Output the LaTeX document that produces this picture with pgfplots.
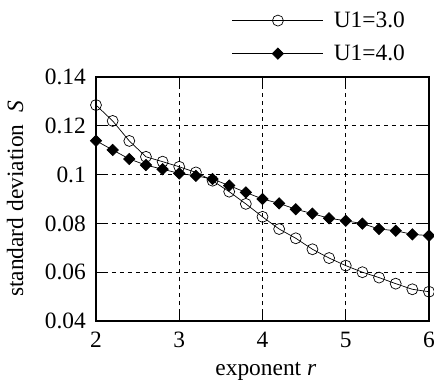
\documentclass[border=0pt]{standalone}
\usepackage{fontspec}
\setmainfont{Liberation Serif}
\usepackage{pgfplots}
\pgfplotsset{compat=1.18}
\begin{document}
\begin{tikzpicture}[font=\fontsize{23.5}{28}\selectfont]
\begin{axis}[
  font=\fontsize{23.5}{28}\selectfont,
  scale only axis,
  width=333bp, height=244bp,
  xmin=2, xmax=6, ymin=0.04, ymax=0.14,
  xtick={2,3,4,5,6}, ytick={0.04,0.06,0.08,0.1,0.12,0.14},
  /pgf/number format/assume math mode=true,
  yticklabel style={/pgf/number format/fixed, /pgf/number format/precision=2, inner sep=0pt, xshift=-10bp},
  xticklabel style={inner sep=0pt, yshift=-11bp},
  tick align=inside, major tick length=12bp,
  tick style={black, line width=0.8bp},
  axis line style={line width=1.2bp},
  grid=major,
  major grid style={black, line width=0.6bp, dash pattern=on 4bp off 4bp},
  xlabel={exponent\ \textit{r}},
  ylabel={standard deviation\ \ \textit{S}},
  xlabel style={at={(axis description cs:0.51,-0.205)}, anchor=center, inner sep=0pt},
  ylabel style={at={(axis description cs:-0.243,0.5)}, anchor=center, inner sep=0pt},
  legend style={draw=none, fill=none, at={(axis description cs:0.408,1.267)}, anchor=north west,
    inner sep=0pt, row sep=16bp, nodes={inner sep=0pt}},
  legend cell align=left,
  legend image code/.code={
    \draw[mark repeat=2, mark phase=2, #1] plot coordinates {(0bp,0bp) (45.5bp,0bp) (91bp,0bp)};
    \path (101bp,0bp);
  },
]
\addplot[black, line width=0.7bp, mark=o, mark size=5.5bp, mark options={line width=0.7bp, fill=white}] coordinates {
(2.0,0.1285) (2.2,0.1220) (2.4,0.1138) (2.6,0.1073) (2.8,0.1053) (3.0,0.1032)
(3.2,0.1009) (3.4,0.0975) (3.6,0.0930) (3.8,0.0880) (4.0,0.0827) (4.2,0.0777)
(4.4,0.0739) (4.6,0.0694) (4.8,0.0658) (5.0,0.0627) (5.2,0.0600) (5.4,0.0578)
(5.6,0.0553) (5.8,0.0530) (6.0,0.0520)
};
\addlegendentry{U1=3.0}
\addplot[black, line width=0.7bp, mark=square*, mark size=4bp, mark options={fill=black, rotate=45}] coordinates {
(2.0,0.1139) (2.2,0.1101) (2.4,0.1064) (2.6,0.1039) (2.8,0.1022) (3.0,0.1005)
(3.2,0.0995) (3.4,0.0982) (3.6,0.0955) (3.8,0.0927) (4.0,0.0900) (4.2,0.0882)
(4.4,0.0858) (4.6,0.0840) (4.8,0.0821) (5.0,0.0811) (5.2,0.0799) (5.4,0.0777)
(5.6,0.0770) (5.8,0.0755) (6.0,0.0750)
};
\addlegendentry{U1=4.0}
\end{axis}
\pgfresetboundingbox
\path[use as bounding box] ([shift={(-96bp,-61bp)}]current axis.south west) rectangle ([shift={(5bp,77bp)}]current axis.north east);
\end{tikzpicture}
\end{document}
